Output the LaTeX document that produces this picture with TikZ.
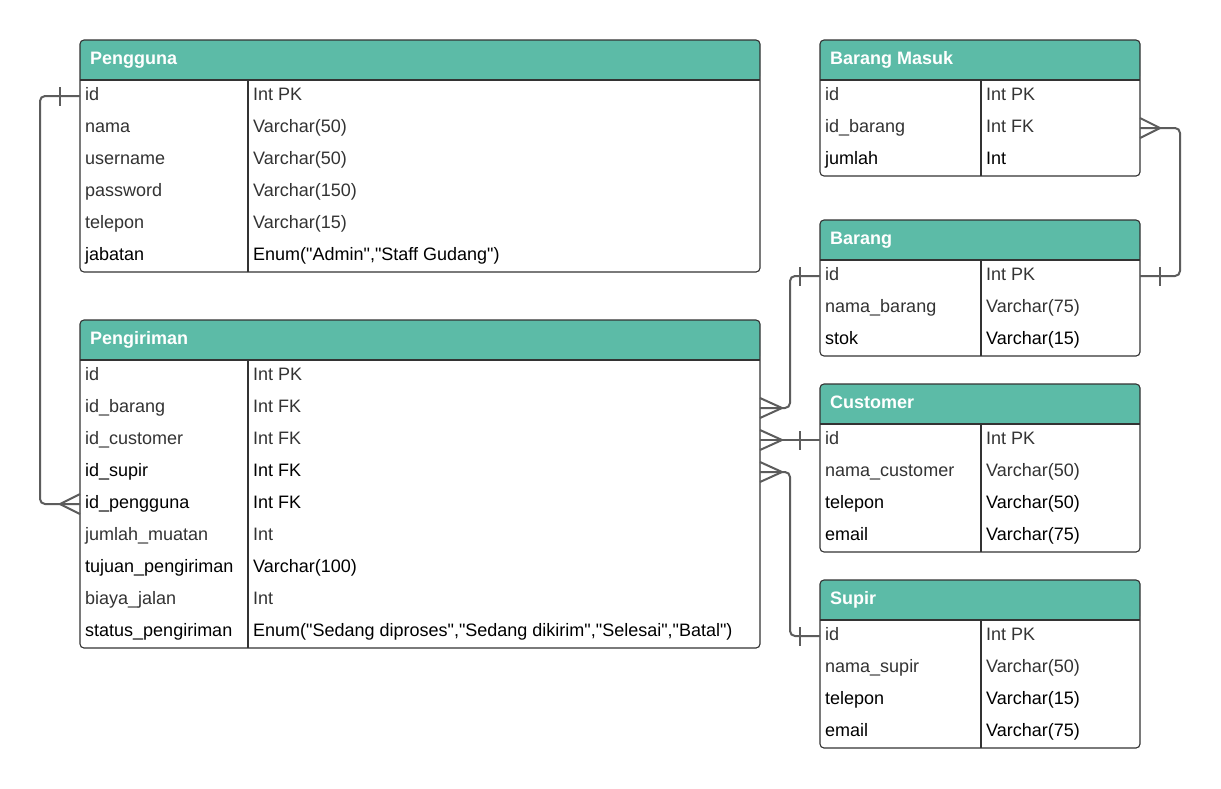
\documentclass[tikz,border=0pt]{standalone}
\usepackage{fontspec}
\setmainfont{Liberation Sans}[Ligatures=TeXOff]
\definecolor{hdrc}{HTML}{5CBBA7}
\definecolor{bordc}{HTML}{333333}
\definecolor{connc}{HTML}{5C5C5C}
\definecolor{txtg}{HTML}{333333}
\definecolor{txtk}{HTML}{000000}
\tikzset{
  rowbox/.style={inner sep=0pt, outer sep=0pt, minimum height=32pt, anchor=north west},
  celltxt/.style={inner sep=0pt, anchor=base west, font=\fontsize{18}{21}\selectfont},
  titletxt/.style={inner sep=0pt, anchor=base west, text=white, font=\fontsize{18}{21}\selectfont\bfseries},
  bord/.style={draw=bordc, line width=1.1pt},
  conn/.style={draw=connc, line width=2pt, rounded corners=5pt},
  erend/.style={draw=connc, line width=2pt},
}
\newcommand\ertable[8]{%
  % #1 name, #2 x, #3 y, #4 width, #5 column offset, #6 rows, #7 title, #8 row list
  \fill[hdrc, rounded corners=4pt] (#2,#3) rectangle ++(#4,40);
  \fill[hdrc] (#2,#3+20) rectangle ++(#4,20);
  \node[titletxt] (#1-title) at (#2+10,#3+24.5) {#7};
  \foreach [count=\i] \n/\t/\c in {#8} {
    \node[rowbox, minimum width=#4pt] (#1-\i) at (#2,{#3+40+32*(\i-1)}) {};
    \node[celltxt, text=\c] at ([xshift=5pt,yshift=-20pt]#1-\i.north west) {\n};
    \node[celltxt, text=\c] at ([xshift=#5pt+5pt,yshift=-20pt]#1-\i.north west) {\t};
  }
  \draw[bord] (#2,#3+40) -- ++(#4,0);
  \draw[bord] (#2+#5,#3+40) -- ++(0,32*#6);
  \draw[bord, rounded corners=4pt] (#2,#3) rectangle ++(#4,40+32*#6);
}
\begin{document}
\begin{tikzpicture}[x=1pt,y=-1pt]
\useasboundingbox[fill=white] (0,0) rectangle (1221,788);

\ertable{pg}{80}{40}{680}{168}{6}{Pengguna}{
  id/Int PK/txtg,
  nama/Varchar(50)/txtg,
  username/Varchar(50)/txtg,
  password/Varchar(150)/txtg,
  telepon/Varchar(15)/txtg,
  jabatan/{Enum("Admin","Staff Gudang")}/txtk}

\ertable{pk}{80}{320}{680}{168}{9}{Pengiriman}{
  id/Int PK/txtg,
  id\_barang/Int FK/txtg,
  id\_customer/Int FK/txtg,
  id\_supir/Int FK/txtk,
  id\_pengguna/Int FK/txtk,
  jumlah\_muatan/Int/txtg,
  tujuan\_pengiriman/Varchar(100)/txtk,
  biaya\_jalan/Int/txtg,
  status\_pengiriman/{Enum("Sedang diproses","Sedang dikirim","Selesai","Batal")}/txtk}

\ertable{bm}{820}{40}{320}{161}{3}{Barang Masuk}{
  id/Int PK/txtg,
  id\_barang/Int FK/txtg,
  jumlah/Int/txtk}

\ertable{br}{820}{220}{320}{161}{3}{Barang}{
  id/Int PK/txtg,
  nama\_barang/Varchar(75)/txtg,
  stok/Varchar(15)/txtk}

\ertable{cu}{820}{384}{320}{161}{4}{Customer}{
  id/Int PK/txtg,
  nama\_customer/Varchar(50)/txtg,
  telepon/Varchar(50)/txtk,
  email/Varchar(75)/txtk}

\ertable{sp}{820}{580}{320}{161}{4}{Supir}{
  id/Int PK/txtg,
  nama\_supir/Varchar(50)/txtg,
  telepon/Varchar(15)/txtk,
  email/Varchar(75)/txtk}

% Pengguna.id -- Pengiriman.id_pengguna
\draw[conn] (pg-1.west) -- ++(-40,0) |- (pk-5.west);
\draw[erend] ([xshift=-20pt,yshift=-9.5pt]pg-1.west) -- ([xshift=-20pt,yshift=9.5pt]pg-1.west);
\draw[erend] ([yshift=10pt]pk-5.west) -- ([xshift=-20pt]pk-5.west) -- ([yshift=-10pt]pk-5.west);

% Pengiriman.id_barang -- Barang.id
\draw[conn] (pk-2.east) -- ++(30,0) |- (br-1.west);
\draw[erend] ([yshift=10pt]pk-2.east) -- ([xshift=22pt]pk-2.east) -- ([yshift=-10pt]pk-2.east);
\draw[erend] ([xshift=-20pt,yshift=-9.5pt]br-1.west) -- ([xshift=-20pt,yshift=9.5pt]br-1.west);

% Pengiriman.id_customer -- Customer.id
\draw[conn] (pk-3.east) -- (cu-1.west);
\draw[erend] ([yshift=10pt]pk-3.east) -- ([xshift=22pt]pk-3.east) -- ([yshift=-10pt]pk-3.east);
\draw[erend] ([xshift=-20pt,yshift=-9.5pt]cu-1.west) -- ([xshift=-20pt,yshift=9.5pt]cu-1.west);

% Pengiriman.id_supir -- Supir.id
\draw[conn] (pk-4.east) -- ++(30,0) |- (sp-1.west);
\draw[erend] ([yshift=10pt]pk-4.east) -- ([xshift=22pt]pk-4.east) -- ([yshift=-10pt]pk-4.east);
\draw[erend] ([xshift=-20pt,yshift=-9.5pt]sp-1.west) -- ([xshift=-20pt,yshift=9.5pt]sp-1.west);

% Barang Masuk.id_barang -- Barang.id
\draw[conn] (bm-2.east) -- ++(40,0) |- (br-1.east);
\draw[erend] ([yshift=10pt]bm-2.east) -- ([xshift=20pt]bm-2.east) -- ([yshift=-10pt]bm-2.east);
\draw[erend] ([xshift=20pt,yshift=-9.5pt]br-1.east) -- ([xshift=20pt,yshift=9.5pt]br-1.east);
\end{tikzpicture}
\end{document}
